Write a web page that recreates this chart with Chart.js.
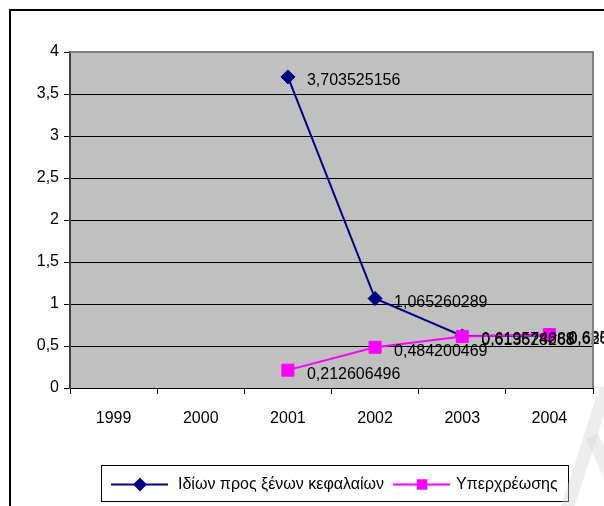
<!DOCTYPE html>
<html>
<head>
<meta charset="utf-8">
<script src="https://cdn.jsdelivr.net/npm/chart.js@4/dist/chart.umd.min.js"></script>
<style>
  html, body { margin: 0; padding: 0; background: #ffffff; }
  #wrap { width: 604px; height: 506px; position: relative; }
</style>
</head>
<body>
<div id="wrap"><canvas id="chart" width="604" height="506"></canvas></div>
<script>
// Categories and series
const years = ['1999', '2000', '2001', '2002', '2003', '2004'];
const equityToDebt = [null, null, 3.703525156, 1.065260289, 0.619574688, 0.626378852];
const overIndebtedness = [null, null, 0.212606496, 0.484200469, 0.613628268, 0.635920688];
const seriesNames = ['Ιδίων προς ξένων κεφαλαίων', 'Υπερχρέωσης'];
const yMin = 0, yMax = 4, yStep = 0.5;

const FONT = "'Liberation Sans', Arial, sans-serif";
const FONT_SIZE = 16;
const fmt = v => String(v).replace('.', ',');

// Outer frame, grey plot area and its border
const backdrop = {
  id: 'backdrop',
  beforeDraw(chart) {
    const { ctx, chartArea: a } = chart;
    ctx.save();
    ctx.fillStyle = '#ffffff';
    ctx.fillRect(0, 0, chart.width, chart.height);
    ctx.fillStyle = '#000000';
    ctx.fillRect(9, 9, chart.width - 9, 2);
    ctx.fillRect(9, 9, 2, chart.height - 9);
    ctx.fillStyle = '#c0c0c0';
    ctx.fillRect(a.left, a.top, a.right - a.left, a.bottom - a.top);
    ctx.restore();
  },
  afterDraw(chart) {
    const { ctx, chartArea: a } = chart;
    ctx.save();
    ctx.strokeStyle = '#808080';
    ctx.lineWidth = 2;
    ctx.beginPath();
    ctx.moveTo(a.left, a.top);
    ctx.lineTo(a.right, a.top);
    ctx.lineTo(a.right, a.bottom);
    ctx.stroke();
    ctx.restore();
  }
};

// Value labels to the right of every point
const valueLabels = {
  id: 'valueLabels',
  afterDatasetsDraw(chart) {
    const { ctx } = chart;
    ctx.save();
    ctx.font = FONT_SIZE + 'px ' + FONT;
    ctx.fillStyle = '#000000';
    ctx.textAlign = 'left';
    ctx.textBaseline = 'middle';
    chart.data.datasets.forEach((ds, i) => {
      const meta = chart.getDatasetMeta(i);
      meta.data.forEach((pt, j) => {
        const v = ds.data[j];
        if (v === null || v === undefined) return;
        ctx.fillText(fmt(v), pt.x + 19, pt.y + 4);
      });
    });
    ctx.restore();
  }
};

// Boxed legend below the axis, line + marker per series
const boxedLegend = {
  id: 'boxedLegend',
  afterDraw(chart) {
    const { ctx } = chart;
    const box = { x: 101.5, y: 465.5, w: 467, h: 36 };
    ctx.save();
    ctx.strokeStyle = '#000000';
    ctx.lineWidth = 1;
    ctx.strokeRect(box.x, box.y, box.w, box.h);
    ctx.font = FONT_SIZE + 'px ' + FONT;
    ctx.textBaseline = 'middle';
    ctx.textAlign = 'left';
    const cy = box.y + box.h / 2 + 1;
    let x = 111;
    chart.data.datasets.forEach((ds, i) => {
      ctx.strokeStyle = ds.borderColor;
      ctx.lineWidth = 2;
      ctx.beginPath();
      ctx.moveTo(x, cy);
      ctx.lineTo(x + 57, cy);
      ctx.stroke();
      Chart.helpers.drawPoint(ctx, {
        pointStyle: ds.pointStyle,
        radius: i === 0 ? 5.5 : 6,
        borderWidth: 1
      }, x + 29, cy);
      ctx.fillStyle = ds.borderColor;
      ctx.fill();
      ctx.fillStyle = '#000000';
      const tx = x + (i === 0 ? 67 : 63);
      ctx.fillText(ds.label, tx, cy);
      x = tx + ctx.measureText(ds.label).width + 9;
    });
    ctx.restore();
  }
};

// Faint diagonal mark in the lower right corner
const cornerMark = {
  id: 'cornerMark',
  afterDraw(chart) {
    const { ctx } = chart;
    ctx.save();
    ctx.strokeStyle = 'rgba(210,210,210,0.4)';
    ctx.lineWidth = 13;
    ctx.beginPath();
    ctx.moveTo(606, 388);
    ctx.lineTo(566, 512);
    ctx.stroke();
    ctx.beginPath();
    ctx.moveTo(592, 436);
    ctx.lineTo(610, 476);
    ctx.stroke();
    ctx.restore();
  }
};

new Chart(document.getElementById('chart'), {
  type: 'line',
  data: {
    labels: years,
    datasets: [
      {
        label: seriesNames[0],
        data: equityToDebt,
        borderColor: '#000080',
        backgroundColor: '#000080',
        borderWidth: 2,
        pointStyle: 'rectRot',
        pointRadius: 7,
        pointBorderWidth: 1,
        pointBackgroundColor: '#000080',
        pointBorderColor: '#000080',
        tension: 0,
        order: 1
      },
      {
        label: seriesNames[1],
        data: overIndebtedness,
        borderColor: '#ff00ff',
        backgroundColor: '#ff00ff',
        borderWidth: 2,
        pointStyle: 'rect',
        pointRadius: 8.5,
        pointBorderWidth: 1,
        pointBackgroundColor: '#ff00ff',
        pointBorderColor: '#ff00ff',
        tension: 0,
        order: 0
      }
    ]
  },
  options: {
    responsive: false,
    maintainAspectRatio: false,
    animation: false,
    devicePixelRatio: 1,
    layout: { padding: { left: 0, top: 52, right: 11, bottom: 0 } },
    plugins: {
      legend: { display: false },
      tooltip: { enabled: false },
      title: { display: false }
    },
    scales: {
      x: {
        type: 'category',
        offset: true,
        afterFit(scale) { scale.height = 118; },
        grid: {
          offset: true,
          drawOnChartArea: false,
          drawTicks: true,
          tickLength: 6,
          color: '#000000',
          lineWidth: 1
        },
        border: { display: true, color: '#000000', width: 1 },
        ticks: {
          color: '#000000',
          font: { family: FONT, size: FONT_SIZE },
          padding: 15,
          maxRotation: 0,
          autoSkip: false
        }
      },
      y: {
        min: yMin,
        max: yMax,
        afterFit(scale) { scale.width = 70; },
        grid: {
          drawOnChartArea: true,
          drawTicks: true,
          tickLength: 6,
          color: '#000000',
          lineWidth: 1
        },
        border: { display: true, color: '#404040', width: 2 },
        ticks: {
          stepSize: yStep,
          color: '#000000',
          font: { family: FONT, size: FONT_SIZE },
          padding: 5,
          callback: v => fmt(v)
        }
      }
    }
  },
  plugins: [backdrop, valueLabels, boxedLegend, cornerMark]
});
</script>
</body>
</html>
